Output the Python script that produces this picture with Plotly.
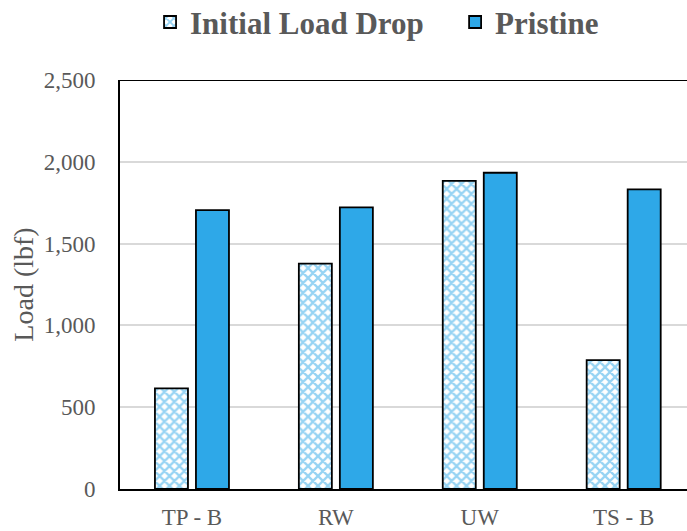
import plotly.graph_objects as go

categories = ["TP - B", "RW", "UW", "TS - B"]
initial_load_drop = [615, 1377, 1884, 788]
pristine = [1705, 1722, 1933, 1832]
y_ticks = [0, 500, 1000, 1500, 2000, 2500]

GREY = "#595959"
BLUE = "#2EA8E8"
FONT = "'Liberation Serif', 'Times New Roman', Times, serif"

fig = go.Figure()
fig.add_trace(go.Bar(
    name="Initial Load Drop", x=categories, y=initial_load_drop, legend="legend",
    marker=dict(color="white", line=dict(color="black", width=1.8),
                pattern=dict(shape="x", fgcolor=BLUE, bgcolor="white",
                             size=7, solidity=0.55)),
))
fig.add_trace(go.Bar(
    name="Pristine", x=categories, y=pristine, legend="legend2",
    marker=dict(color=BLUE, line=dict(color="black", width=1.8)),
))

# top border of the plotting frame
fig.add_shape(type="line", xref="paper", yref="y", x0=0, x1=1, y0=2500, y1=2500,
              line=dict(color="black", width=2))

legend_style = dict(orientation="h", xanchor="left", y=1.207, yref="paper",
                    yanchor="top", itemwidth=30,
                    font=dict(family=FONT, size=31, color=GREY, weight="bold"))

fig.update_layout(
    width=687, height=531,
    margin=dict(l=120, r=0, t=80, b=42, autoexpand=False),
    paper_bgcolor="white", plot_bgcolor="white",
    showlegend=True,
    barmode="group", bargap=0.43, bargroupgap=0.195,
    font=dict(family=FONT, color=GREY),
    legend=dict(x=0.053, **legend_style),
    legend2=dict(x=0.591, **legend_style),
    xaxis=dict(range=[-0.5, 3.44], showline=True, linecolor="black", linewidth=2,
               showgrid=False, tickfont=dict(family=FONT, size=23, color=GREY),
               ticklabelstandoff=6),
    yaxis=dict(range=[0, 2500], tickvals=y_ticks, tickformat=",", showline=True,
               linecolor="black", linewidth=2, showgrid=True, gridcolor="#d9d9d9",
               gridwidth=2, zeroline=False,
               tickfont=dict(family=FONT, size=23, color=GREY), ticklabelstandoff=18,
               title=dict(text="Load (lbf)", font=dict(family=FONT, size=28, color=GREY),
                          standoff=2)),
)

fig.write_html("out.html")
